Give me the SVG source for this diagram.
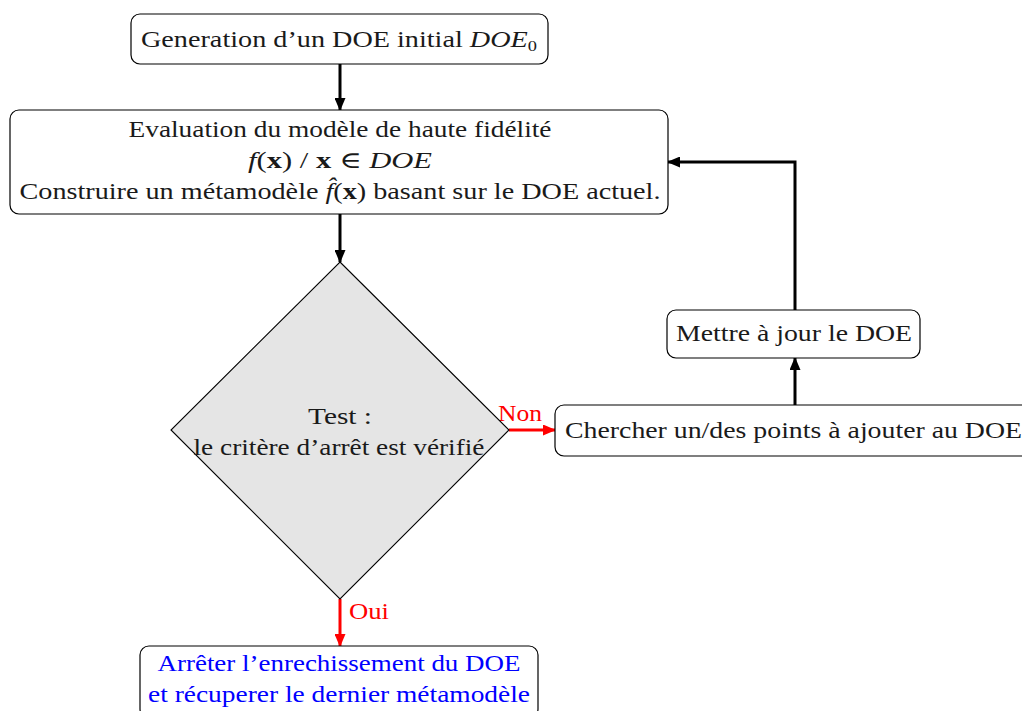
<svg xmlns="http://www.w3.org/2000/svg" width="1022" height="711" viewBox="0 0 1022 711">
  <style>
    .box { fill: #ffffff; stroke: #000000; stroke-width: 1.2; }
    .dec { fill: #e5e5e5; stroke: #000000; stroke-width: 1.1; }
    text { font-family: "Liberation Serif", "DejaVu Serif", serif; font-size: 23px; fill: #1a1a1a; text-anchor: middle; }
    .it { font-style: italic; }
    .bf { font-weight: bold; }
    .red { fill: #ff0000; }
    .blue { fill: #0000ff; }
    .lbl { text-anchor: start; }
    .wire { fill: none; stroke: #000000; stroke-width: 3; }
    .wire.r { stroke: #ff0000; }
  </style>
  <defs>
    <marker id="ah" viewBox="0 0 13 11" refX="12" refY="5.5" markerWidth="13" markerHeight="11" markerUnits="userSpaceOnUse" orient="auto">
      <path d="M0,0 L13,5.5 L0,11 z" fill="#000000"/>
    </marker>
    <marker id="ahr" viewBox="0 0 13 11" refX="12" refY="5.5" markerWidth="13" markerHeight="11" markerUnits="userSpaceOnUse" orient="auto">
      <path d="M0,0 L13,5.5 L0,11 z" fill="#ff0000"/>
    </marker>
  </defs>

  <!-- connectors -->
  <g id="connectors">
    <path class="wire" d="M340,64 V110" marker-end="url(#ah)"/>
    <path class="wire" d="M340,214 V262" marker-end="url(#ah)"/>
    <path class="wire r" d="M509,430 H555" marker-end="url(#ahr)"/>
    <path class="wire r" d="M340,599 V646" marker-end="url(#ahr)"/>
    <path class="wire" d="M795,405 V358" marker-end="url(#ah)"/>
    <path class="wire" d="M795,310 V162 H668" marker-end="url(#ah)"/>
    <text class="red lbl" x="498" y="421" textLength="44" lengthAdjust="spacingAndGlyphs">Non</text>
    <text class="red lbl" x="349" y="619" textLength="40" lengthAdjust="spacingAndGlyphs">Oui</text>
  </g>

  <!-- initial design of experiments -->
  <g id="n-init">
    <rect class="box" x="131" y="14" width="417" height="50" rx="9"/>
    <text x="339" y="47" textLength="396" lengthAdjust="spacingAndGlyphs">Generation d’un DOE initial <tspan class="it">DOE</tspan><tspan font-size="15" dy="4">0</tspan></text>
  </g>

  <!-- evaluation and surrogate construction -->
  <g id="n-eval">
    <rect class="box" x="10" y="110" width="658" height="104" rx="9"/>
    <text x="340" y="137" textLength="423" lengthAdjust="spacingAndGlyphs">Evaluation du modèle de haute fidélité</text>
    <text x="340" y="168" textLength="184" lengthAdjust="spacingAndGlyphs"><tspan class="it">f</tspan>(<tspan class="bf">x</tspan>)  /  <tspan class="bf">x</tspan> ∈ <tspan class="it">DOE</tspan></text>
    <text x="340" y="199" textLength="641" lengthAdjust="spacingAndGlyphs">Construire un métamodèle <tspan class="it">f̂</tspan>(<tspan class="bf">x</tspan>) basant sur le DOE actuel.</text>
  </g>

  <!-- stopping test -->
  <g id="n-test">
    <polygon class="dec" points="340,262 509,430 340,599 171,430"/>
    <text x="340" y="424" textLength="64" lengthAdjust="spacingAndGlyphs">Test :</text>
    <text x="339" y="455" textLength="291" lengthAdjust="spacingAndGlyphs">le critère d’arrêt est vérifié</text>
  </g>

  <!-- infill search -->
  <g id="n-search">
    <rect class="box" x="555" y="405" width="480" height="51" rx="9"/>
    <text class="lbl" x="565" y="438" textLength="457" lengthAdjust="spacingAndGlyphs">Chercher un/des points à ajouter au DOE</text>
  </g>

  <!-- update -->
  <g id="n-update">
    <rect class="box" x="667" y="310" width="253" height="48" rx="9"/>
    <text x="794" y="341" textLength="236" lengthAdjust="spacingAndGlyphs">Mettre à jour le DOE</text>
  </g>

  <!-- stop -->
  <g id="n-stop">
    <rect class="box" x="140" y="646" width="398" height="72" rx="9"/>
    <text class="blue" x="339" y="671" textLength="363" lengthAdjust="spacingAndGlyphs">Arrêter l’enrechissement du DOE</text>
    <text class="blue" x="339" y="702" textLength="382" lengthAdjust="spacingAndGlyphs">et récuperer le dernier métamodèle</text>
  </g>
</svg>
